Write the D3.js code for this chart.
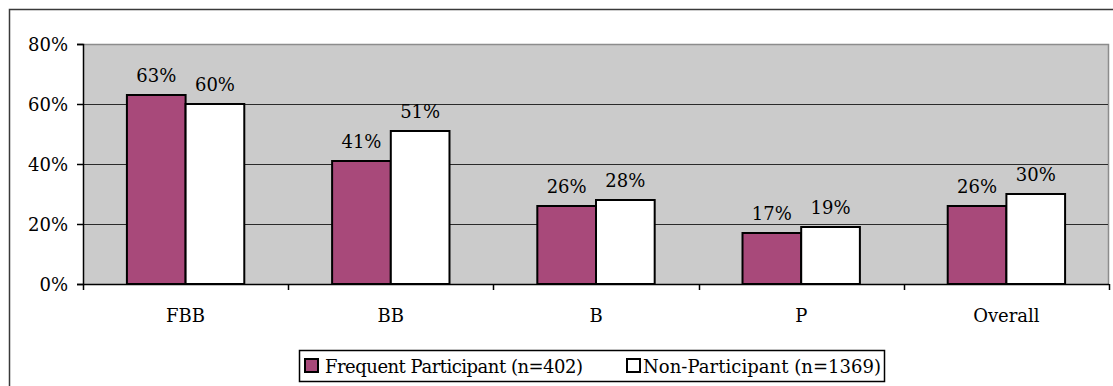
<!DOCTYPE html>
<html>
<head>
<meta charset="utf-8">
<script src="https://cdn.jsdelivr.net/npm/d3@7/dist/d3.min.js"></script>
<style>
  html, body { margin: 0; padding: 0; background: #fff; }
  svg { display: block; }
</style>
</head>
<body>
<svg id="chart" width="1113" height="386"></svg>
<script>
// Share of respondents per level, by participation group
const categories = ["FBB", "BB", "B", "P", "Overall"];
const seriesNames = ["Frequent Participant (n=402)", "Non-Participant (n=1369)"];
const frequentValues = [63, 41, 26, 17, 26];
const nonParticipantValues = [60, 51, 28, 19, 30];
const yTicks = [0, 20, 40, 60, 80];
const seriesColors = ["#a8497a", "#ffffff"];

const FONT = "DejaVu Serif";
const svg = d3.select("#chart").attr("font-family", FONT);
const plot = { left: 83, right: 1109, top: 44, bottom: 284 };

// Outer chart frame (extends past the right/bottom edge)
svg.append("rect")
  .attr("x", 9.5).attr("y", 9.5)
  .attr("width", 1200).attr("height", 500)
  .attr("fill", "#fff").attr("stroke", "#3a3a3a").attr("stroke-width", 1.5);

const x0 = d3.scaleBand().domain(categories).range([plot.left, plot.right]).padding(0);
const groupFrac = 0.572;
const x1 = d3.scaleBand().domain(seriesNames).range([0, x0.bandwidth() * groupFrac]);
const y = d3.scaleLinear().domain([0, 80]).range([plot.bottom, plot.top]);

// Plot area background
svg.append("rect")
  .attr("x", plot.left).attr("y", plot.top)
  .attr("width", plot.right - plot.left).attr("height", plot.bottom - plot.top)
  .attr("fill", "#cbcbcb");

// Plot area border on top and right
svg.append("path")
  .attr("d", `M${plot.left},${plot.top + 0.5}H${plot.right - 0.5}V${plot.bottom}`)
  .attr("fill", "none").attr("stroke", "#8c8c8c").attr("stroke-width", 1.5);

// Horizontal gridlines
svg.append("g")
  .selectAll("line")
  .data(yTicks.filter(t => t > 0 && t < 80))
  .join("line")
  .attr("x1", plot.left).attr("x2", plot.right - 1)
  .attr("y1", d => Math.round(y(d)) + 0.5).attr("y2", d => Math.round(y(d)) + 0.5)
  .attr("stroke", "#2a2a2a").attr("stroke-width", 1);

// Bars
const rows = categories.map((c, i) => ({ cat: c, vals: [frequentValues[i], nonParticipantValues[i]] }));
const groupOffset = (x0.bandwidth() * (1 - groupFrac)) / 2;

const groups = svg.append("g").selectAll("g")
  .data(rows)
  .join("g")
  .attr("transform", d => `translate(${x0(d.cat) + groupOffset},0)`);

groups.selectAll("rect")
  .data(d => d.vals.map((v, k) => ({ key: seriesNames[k], v, k })))
  .join("rect")
  .attr("x", d => x1(d.key))
  .attr("y", d => y(d.v))
  .attr("width", x1.bandwidth())
  .attr("height", d => y(0) - y(d.v))
  .attr("fill", d => seriesColors[d.k])
  .attr("stroke", "#000").attr("stroke-width", 2);

groups.selectAll("text")
  .data(d => d.vals.map((v, k) => ({ key: seriesNames[k], v, k })))
  .join("text")
  .attr("x", d => x1(d.key) + x1.bandwidth() / 2)
  .attr("y", d => y(d.v) - 13)
  .attr("text-anchor", "middle")
  .attr("font-family", FONT)
  .attr("font-size", 18)
  .text(d => d.v + "%");

// Y axis
const yAxis = d3.axisLeft(y).tickValues(yTicks).tickFormat(d => d + "%").tickSize(6).tickPadding(9);
const gy = svg.append("g").attr("transform", `translate(${plot.left},0)`).call(yAxis)
  .attr("font-family", FONT).attr("font-size", 18);
gy.select(".domain").attr("stroke", "#000").attr("stroke-width", 1.5);
gy.selectAll(".tick line").attr("stroke", "#000").attr("stroke-width", 1.5);
gy.selectAll(".tick text").attr("fill", "#000").attr("dy", "0.34em");

// X axis: ticks between categories
const xAxisG = svg.append("g");
xAxisG.append("line")
  .attr("x1", plot.left).attr("x2", plot.right)
  .attr("y1", plot.bottom + 0.5).attr("y2", plot.bottom + 0.5)
  .attr("stroke", "#000").attr("stroke-width", 1.5);
const bounds = categories.map(c => x0(c)).concat([x0(categories[categories.length - 1]) + x0.bandwidth()]);
xAxisG.selectAll("line.tk")
  .data(bounds)
  .join("line").attr("class", "tk")
  .attr("x1", d => Math.round(d) + 0.5).attr("x2", d => Math.round(d) + 0.5)
  .attr("y1", plot.bottom).attr("y2", plot.bottom + 6)
  .attr("stroke", "#000").attr("stroke-width", 1.5);
xAxisG.selectAll("text")
  .data(categories)
  .join("text")
  .attr("x", d => x0(d) + x0.bandwidth() / 2)
  .attr("y", 322)
  .attr("text-anchor", "middle")
  .attr("font-family", FONT)
  .attr("font-size", 18)
  .text(d => d);

// Legend
const legend = svg.append("g");
legend.append("rect")
  .attr("x", 299.5).attr("y", 350.5).attr("width", 585).attr("height", 31)
  .attr("fill", "#fff").attr("stroke", "#000").attr("stroke-width", 1.5);
const legendItems = [
  { name: seriesNames[0], color: seriesColors[0], mx: 305, tx: 325, len: 258 },
  { name: seriesNames[1], color: seriesColors[1], mx: 627, tx: 643, len: 238 }
];
legend.selectAll("rect.mk")
  .data(legendItems)
  .join("rect").attr("class", "mk")
  .attr("x", d => d.mx).attr("y", 359).attr("width", 13).attr("height", 13)
  .attr("fill", d => d.color).attr("stroke", "#000").attr("stroke-width", 2);
legend.selectAll("text")
  .data(legendItems)
  .join("text")
  .attr("x", d => d.tx).attr("y", 373)
  .attr("font-family", FONT)
  .attr("font-size", 18)
  .attr("textLength", d => d.len)
  .attr("lengthAdjust", "spacing")
  .text(d => d.name);
</script>
</body>
</html>
